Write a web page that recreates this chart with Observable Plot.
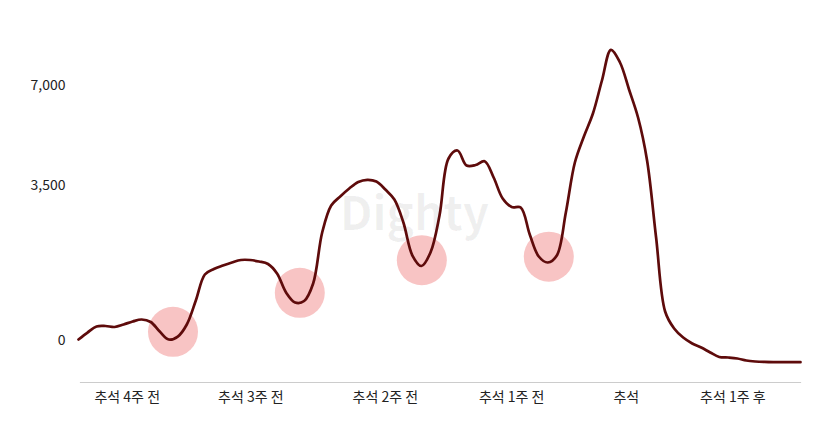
<!DOCTYPE html>
<html>
<head>
<meta charset="utf-8">
<script src="https://cdn.jsdelivr.net/npm/d3@7"></script>
<script src="https://cdn.jsdelivr.net/npm/@observablehq/plot@0.6"></script>
<style>
  html, body { margin: 0; padding: 0; background: #fff; }
</style>
</head>
<body>
<div id="chart"></div>
<script>
// time index (half-day steps from start of window)
const t = d3.range(0, 81);
// search volume
const volume = [
  3, 56, 123, 129, 117, 148, 188, 216, 181, 66,
  3, 21, 148, 530, 1065, 1191, 1273, 1345, 1405, 1405,
  1369, 1309, 1088, 684, 494, 521, 869, 2115, 2887, 3158,
  3405, 3610, 3680, 3626, 3374, 3066, 2393, 1515, 1261, 1590,
  2594, 4377, 4646, 4143, 4159, 4286, 3753, 3097, 2842, 2827,
  2061, 1491, 1345, 1515, 2680, 4243, 5130, 5953, 7192, 8400,
  7895, 6848, 5807, 4310, 1980, 339, 99, 14, -14, -47,
  -99, -154, -161, -174, -202, -216, -223, -226, -226, -226, -226
];
// highlighted dips
const dipT = [10.47, 24.52, 38.04, 52.11];
const dipV = [63, 678, 1400, 1486];
// axis ticks
const xTickValues = [5.4, 19.1, 34.0, 48.0, 60.7, 72.5];
const xTickLabels = ["추석 4주 전", "추석 3주 전", "추석 2주 전", "추석 1주 전", "추석", "추석 1주 후"];
const yTickValues = [0, 3500, 7000];

const series = t.map((d, i) => ({t: d, v: volume[i]}));
const dips = dipT.map((d, i) => ({t: d, v: dipV[i]}));
const labelOf = new Map(xTickValues.map((d, i) => [d, xTickLabels[i]]));

const chart = Plot.plot({
  width: 830,
  height: 436,
  marginLeft: 80,
  marginRight: 30,
  marginTop: 20,
  marginBottom: 54,
  style: {fontFamily: "'Noto Sans CJK KR', 'Noto Sans', sans-serif", fontSize: "14px", color: "#222", background: "#fff"},
  x: {domain: [0, 80], range: [78, 800], label: null},
  y: {type: "pow", exponent: 0.718, domain: [0, 7000], range: [340, 85], label: null},
  marks: [
    Plot.frame({anchor: "bottom", stroke: "#cccccc", strokeWidth: 1.2}),
    Plot.text(["Dighty"], {frameAnchor: "middle", dx: -26, dy: 14, fontSize: 46, fontWeight: "bold", fill: "#000", fillOpacity: 0.06}),
    Plot.dot(dips, {x: "t", y: "v", r: 25, fill: "#f8c4c4", stroke: "none"}),
    Plot.line(series, {x: "t", y: "v", stroke: "#5e0b0b", strokeWidth: 2.7, curve: "catmull-rom"}),
    Plot.axisY(yTickValues, {tickSize: 0, tickPadding: 15, tickFormat: d3.format(","), fill: "#222", fontSize: 14, label: null}),
    Plot.axisX(xTickValues, {tickSize: 0, tickPadding: 10, tickFormat: d => labelOf.get(d), fill: "#222", fontSize: 14, label: null})
  ]
});
document.getElementById("chart").appendChild(chart);
</script>
</body>
</html>
